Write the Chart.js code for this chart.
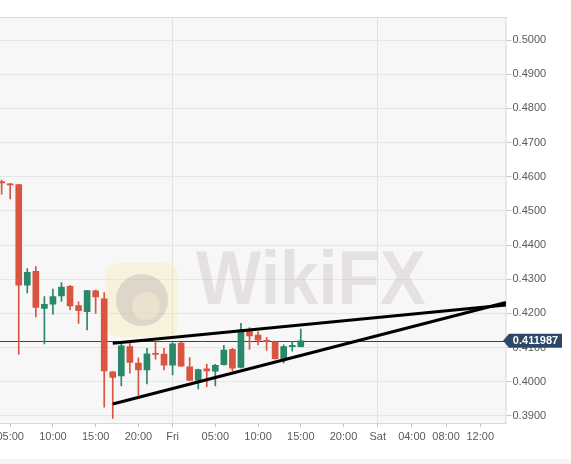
<!DOCTYPE html>
<html>
<head>
<meta charset="utf-8">
<script src="https://cdn.jsdelivr.net/npm/chart.js@4.4.0/dist/chart.umd.min.js"></script>
<style>
  html, body { margin: 0; padding: 0; background: #fff; }
  canvas { display: block; }
</style>
</head>
<body>
<canvas id="chart" width="571" height="464"></canvas>
<script>
// hours counted from Thursday 00:00
const hours = [4, 5, 6, 7, 8, 9, 10, 11, 12, 13, 14, 15, 16, 17, 18, 19, 20, 21, 22, 23,
  24, 25, 26, 27, 28, 29, 30, 31, 32, 33, 34, 35, 36, 37, 38, 39];
const opens = [0.4585, 0.4579, 0.4577, 0.4283, 0.4323, 0.4215, 0.4227, 0.4251, 0.4279, 0.4223,
  0.4205, 0.4266, 0.4243, 0.4029, 0.4017, 0.4103, 0.4055, 0.4035, 0.4083, 0.4081,
  0.4049, 0.4113, 0.4044, 0.4004, 0.4038, 0.4031, 0.4050, 0.4095, 0.4042, 0.4150,
  0.4137, 0.4121, 0.4117, 0.4068, 0.4103, 0.4103];
const highs = [0.4590, 0.4581, 0.4578, 0.4331, 0.4337, 0.4249, 0.4271, 0.4290, 0.4282, 0.4234,
  0.4268, 0.4269, 0.4261, 0.4030, 0.4114, 0.4113, 0.4070, 0.4098, 0.4118, 0.4098,
  0.4115, 0.4116, 0.4071, 0.4037, 0.4052, 0.4051, 0.4107, 0.4098, 0.4171, 0.4159,
  0.4147, 0.4130, 0.4119, 0.4108, 0.4118, 0.4154];
const lows = [0.4549, 0.4535, 0.4081, 0.4260, 0.4190, 0.4111, 0.4198, 0.4235, 0.4210, 0.4171,
  0.4152, 0.4200, 0.3926, 0.3893, 0.3988, 0.4025, 0.3961, 0.3994, 0.4066, 0.4035,
  0.4020, 0.4045, 0.4003, 0.3979, 0.3986, 0.3988, 0.4049, 0.4032, 0.4041, 0.4095,
  0.4108, 0.4092, 0.4066, 0.4055, 0.4090, 0.4102];
const closes = [0.4582, 0.4576, 0.4283, 0.4320, 0.4218, 0.4227, 0.4249, 0.4277, 0.4222, 0.4208,
  0.4267, 0.4248, 0.4032, 0.4013, 0.4105, 0.4057, 0.4035, 0.4082, 0.4080, 0.4049,
  0.4111, 0.4046, 0.4004, 0.4036, 0.4032, 0.4048, 0.4093, 0.4040, 0.4152, 0.4134,
  0.4122, 0.4118, 0.4068, 0.4103, 0.4105, 0.411987];

// trend lines drawn on the chart
const upperLineX = [17, 63];
const upperLineY = [0.4113, 0.4225];
const lowerLineX = [17, 63];
const lowerLineY = [0.3935, 0.4232];

const lastPrice = 0.411987;

const yTicks = [0.39, 0.40, 0.41, 0.42, 0.43, 0.44, 0.45, 0.46, 0.47, 0.48, 0.49, 0.50];
const xTickHours = [5, 10, 15, 20, 24, 29, 34, 39, 44, 48, 52, 56, 60];
const xTickLabels = ['05:00', '10:00', '15:00', '20:00', 'Fri', '05:00', '10:00', '15:00', '20:00', 'Sat', '04:00', '08:00', '12:00'];
const dayLines = [24, 48];

const UP = '#2a8769';
const DOWN = '#d9553f';
const NAVY = '#2c4869';

const candleColors = hours.map((h, i) => closes[i] >= opens[i] ? UP : DOWN);

Chart.defaults.font.family = '"Liberation Sans", Arial, sans-serif';
Chart.defaults.font.size = 11;
Chart.defaults.color = '#5a5a5a';

const decorPlugin = {
  id: 'decor',
  beforeDraw(chart) {
    const { ctx, chartArea: a } = chart;
    ctx.save();
    ctx.fillStyle = '#f5f5f5';
    ctx.fillRect(0, 459, chart.width, chart.height - 459);
    ctx.fillStyle = '#f7f7f7';
    ctx.fillRect(a.left, a.top, a.right - a.left, a.bottom - a.top);
    ctx.restore();
  },
  beforeDatasetsDraw(chart) {
    const { ctx, chartArea: a } = chart;
    ctx.save();
    ctx.strokeStyle = '#d6d9e0';
    ctx.lineWidth = 1;
    ctx.strokeRect(a.left - 0.5, a.top + 0.5, a.right - a.left, a.bottom - a.top);

    // watermark
    ctx.fillStyle = 'rgba(250, 226, 150, 0.28)';
    ctx.beginPath();
    ctx.roundRect(106, 263, 72, 74, 12);
    ctx.fill();
    ctx.fillStyle = 'rgba(150, 145, 155, 0.28)';
    ctx.beginPath();
    ctx.arc(142, 300, 26, 0, Math.PI * 2);
    ctx.fill();
    ctx.fillStyle = 'rgba(250, 240, 215, 0.45)';
    ctx.beginPath();
    ctx.arc(146, 306, 14, 0, Math.PI * 2);
    ctx.fill();

    ctx.font = 'bold 76px "Liberation Sans", Arial, sans-serif';
    ctx.fillStyle = 'rgba(185, 165, 165, 0.27)';
    ctx.textBaseline = 'alphabetic';
    const w = ctx.measureText('WikiFX').width;
    ctx.translate(196, 304);
    ctx.scale(230 / w, 1);
    ctx.fillText('WikiFX', 0, 0);
    ctx.restore();

    // last price line
    const y = Math.round(chart.scales.y.getPixelForValue(lastPrice)) + 0.5;
    ctx.save();
    ctx.strokeStyle = NAVY;
    ctx.lineWidth = 1;
    ctx.beginPath();
    ctx.moveTo(a.left, y);
    ctx.lineTo(a.right, y);
    ctx.stroke();
    ctx.restore();
  },
  afterDraw(chart) {
    const { ctx } = chart;
    const y = chart.scales.y.getPixelForValue(lastPrice);
    ctx.save();
    ctx.fillStyle = NAVY;
    ctx.beginPath();
    ctx.moveTo(503, y);
    ctx.lineTo(509, y - 7);
    ctx.lineTo(562, y - 7);
    ctx.lineTo(562, y + 7);
    ctx.lineTo(509, y + 7);
    ctx.closePath();
    ctx.fill();
    ctx.fillStyle = '#fff';
    ctx.font = 'bold 11px "Liberation Sans", Arial, sans-serif';
    ctx.textAlign = 'center';
    ctx.textBaseline = 'middle';
    ctx.fillText(lastPrice.toFixed(6), 535.5, y + 0.5);
    ctx.restore();
  }
};

new Chart(document.getElementById('chart'), {
  type: 'bar',
  data: {
    datasets: [
      {
        type: 'line',
        data: upperLineX.map((x, i) => ({ x, y: upperLineY[i] })),
        borderColor: '#000',
        borderWidth: 3,
        pointRadius: 0,
        order: 0
      },
      {
        type: 'line',
        data: lowerLineX.map((x, i) => ({ x, y: lowerLineY[i] })),
        borderColor: '#000',
        borderWidth: 3,
        pointRadius: 0,
        order: 0
      },
      {
        data: hours.map((h, i) => ({ x: h, y: [Math.min(opens[i], closes[i]), Math.max(opens[i], closes[i])] })),
        backgroundColor: candleColors,
        barThickness: 6,
        minBarLength: 1.2,
        grouped: false,
        order: 1
      },
      {
        data: hours.map((h, i) => ({ x: h, y: [lows[i], highs[i]] })),
        backgroundColor: candleColors,
        barThickness: 1,
        grouped: false,
        order: 2
      }
    ]
  },
  options: {
    responsive: false,
    animation: false,
    devicePixelRatio: 1,
    layout: { padding: { top: 17, left: 0, right: 0, bottom: 0 } },
    plugins: {
      legend: { display: false },
      tooltip: { enabled: false }
    },
    scales: {
      x: {
        type: 'linear',
        min: 3.807,
        max: 63.07,
        offset: false,
        border: { display: false },
        grid: {
          offset: false,
          color: ctx => ctx.tick && dayLines.includes(ctx.tick.value) ? '#e2e2e2' : 'rgba(0,0,0,0)',
          tickColor: '#c4c4c4',
          tickLength: 4
        },
        ticks: {
          autoSkip: false,
          maxRotation: 0,
          padding: 3,
          callback: (v, i) => xTickLabels[i]
        },
        afterBuildTicks: scale => { scale.ticks = xTickHours.map(v => ({ value: v })); },
        afterFit: scale => {
          scale.height = 41;
          scale.paddingLeft = 0;
          scale.paddingRight = 0;
        }
      },
      y: {
        position: 'right',
        min: 0.38795,
        max: 0.50673,
        beginAtZero: false,
        border: { display: false },
        grid: {
          color: '#e6e6e6',
          tickColor: '#c4c4c4',
          tickLength: 5
        },
        ticks: {
          padding: 1,
          callback: v => v.toFixed(4)
        },
        afterBuildTicks: scale => { scale.ticks = yTicks.map(v => ({ value: v })); },
        afterFit: scale => {
          scale.width = 64.5;
          scale.paddingTop = 0;
          scale.paddingBottom = 0;
        }
      }
    }
  },
  plugins: [decorPlugin]
});
</script>
</body>
</html>
